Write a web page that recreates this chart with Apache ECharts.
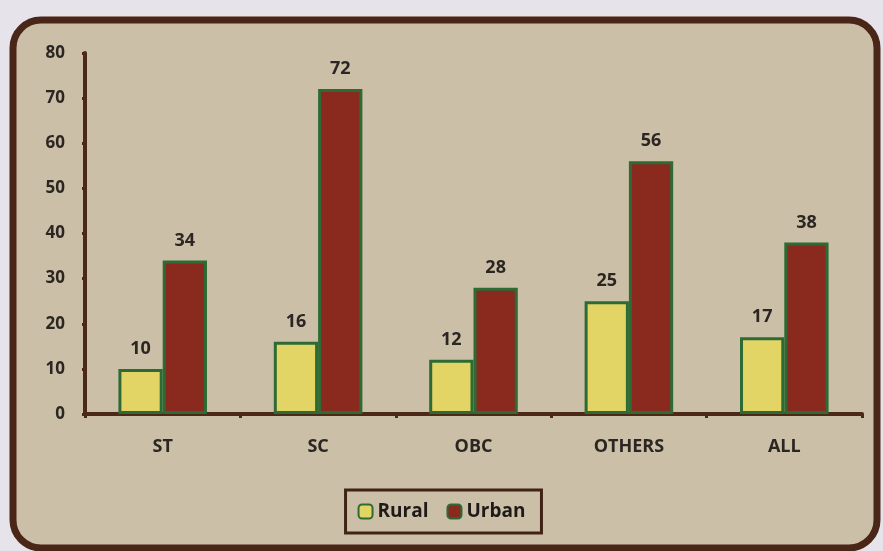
<!DOCTYPE html>
<html>
<head>
<meta charset="utf-8">
<script src="https://cdn.jsdelivr.net/npm/echarts@6/dist/echarts.min.js"></script>
<style>
  html, body { margin: 0; padding: 0; background: #e6e4ea; }
  #main { width: 883px; height: 551px; }
</style>
</head>
<body>
<div id="main"></div>
<script>
    // data
    var categories = ['ST', 'SC', 'OBC', 'OTHERS', 'ALL'];
    var rural = [10, 16, 12, 25, 17];
    var urban = [34, 72, 28, 56, 38];
    var yTicks = [0, 10, 20, 30, 40, 50, 60, 70, 80];

    var myChart = echarts.init(document.getElementById('main'));

    var labelStyle = {
        show: true,
        position: 'top',
        distance: 11,
        color: '#2b2622',
        fontSize: 18,
        fontWeight: 'bold',
        fontFamily: 'Open Sans'
    };

    var option = {
        backgroundColor: '#e6e4ea',
        graphic: [{
            type: 'rect',
            z: -10,
            shape: { x: 13, y: 20, width: 864, height: 528, r: 28 },
            style: { fill: '#ccbfa7', stroke: '#4a2618', lineWidth: 7 }
        }],
        grid: { left: 85, right: 21, top: 53, bottom: 137 },
        legend: {
            data: ['Rural', 'Urban'],
            bottom: 18,
            left: 'center',
            itemWidth: 14,
            itemHeight: 14,
            itemGap: 18,
            padding: [12, 16, 12, 12],
            borderColor: '#3f2416',
            borderWidth: 3,
            textStyle: { color: '#1e1a18', fontSize: 19, fontWeight: 'bold', fontFamily: 'Open Sans' }
        },
        xAxis: {
            type: 'category',
            data: categories,
            axisLine: { lineStyle: { color: '#4b2818', width: 4 } },
            axisTick: { show: true, length: 4, lineStyle: { color: '#4b2818', width: 3 } },
            axisLabel: { margin: 24, color: '#2b2622', fontSize: 18, fontWeight: 'bold', fontFamily: 'Open Sans' }
        },
        yAxis: {
            type: 'value',
            min: yTicks[0],
            max: yTicks[yTicks.length - 1],
            interval: 10,
            splitLine: { show: false },
            axisLine: { show: true, lineStyle: { color: '#4b2818', width: 4 } },
            axisTick: { show: true, length: 3, lineStyle: { color: '#4b2818', width: 3 } },
            axisLabel: { margin: 20, color: '#2b2622', fontSize: 17, fontWeight: 'bold', fontFamily: 'Open Sans' }
        },
        series: [{
            name: 'Rural',
            type: 'bar',
            data: rural,
            barGap: '0%',
            barCategoryGap: '43%',
            itemStyle: { color: '#e2d465', borderColor: '#2e6b34', borderWidth: 3 },
            label: labelStyle
        }, {
            name: 'Urban',
            type: 'bar',
            data: urban,
            itemStyle: { color: '#8a2a1e', borderColor: '#2e6b34', borderWidth: 3 },
            label: labelStyle
        }]
    };

    myChart.setOption(option);
</script>
</body>
</html>
